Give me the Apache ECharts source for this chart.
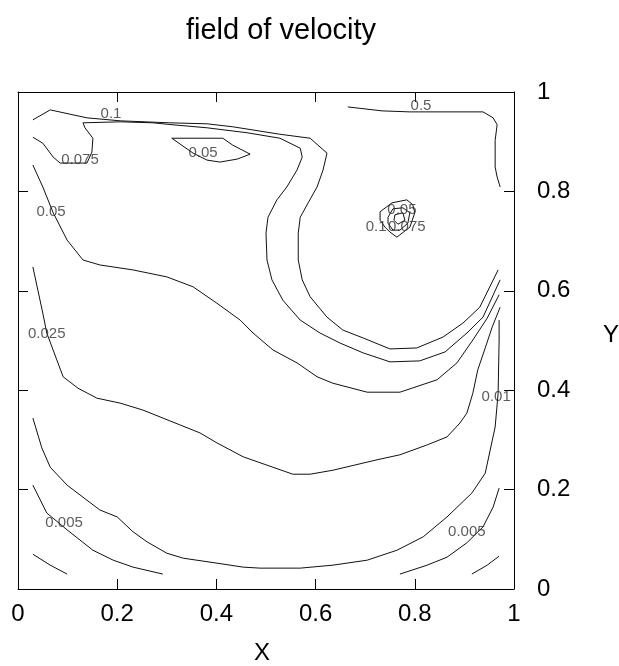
<!DOCTYPE html>
<html>
<head>
<meta charset="utf-8">
<script src="https://cdn.jsdelivr.net/npm/echarts@6/dist/echarts.min.js"></script>
<style>
  html, body { margin: 0; padding: 0; background: #fff; }
  #chart { width: 619px; height: 666px; }
</style>
</head>
<body>
<div id="chart"></div>
<script>
// ---- data (x, y in axis units) ----
const xTickLabels = ['0', '0.2', '0.4', '0.6', '0.8', '1'];
const yTickLabels = ['0', '0.2', '0.4', '0.6', '0.8', '1'];

const contour_0_1 = [[0.030,0.944],[0.065,0.964],[0.139,0.948],[0.206,0.942],[0.306,0.938],[0.381,0.936],[0.433,0.930],[0.528,0.915],[0.589,0.907],[0.623,0.877],[0.615,0.843],[0.603,0.809],[0.585,0.777],[0.569,0.748],[0.565,0.716],[0.565,0.662],[0.573,0.622],[0.589,0.588],[0.623,0.547],[0.655,0.521],[0.696,0.505],[0.750,0.483],[0.804,0.485],[0.857,0.507],[0.897,0.535],[0.931,0.567],[0.968,0.642]];

const contour_0_075 = [[0.030,0.909],[0.050,0.897],[0.071,0.869],[0.085,0.857],[0.139,0.857],[0.149,0.879],[0.151,0.907],[0.135,0.928],[0.131,0.938],[0.206,0.940],[0.272,0.938],[0.3125,0.934],[0.381,0.928],[0.462,0.918],[0.528,0.907],[0.569,0.887],[0.573,0.869],[0.5625,0.843],[0.542,0.809],[0.522,0.783],[0.504,0.748],[0.500,0.716],[0.502,0.662],[0.512,0.622],[0.534,0.581],[0.569,0.541],[0.609,0.515],[0.649,0.495],[0.696,0.475],[0.750,0.457],[0.810,0.459],[0.861,0.477],[0.905,0.515],[0.9375,0.547],[0.972,0.622]];

const contour_0_05 = [[0.030,0.853],[0.050,0.809],[0.071,0.757],[0.099,0.702],[0.131,0.662],[0.165,0.652],[0.232,0.642],[0.300,0.628],[0.353,0.608],[0.401,0.575],[0.448,0.541],[0.474,0.515],[0.514,0.481],[0.5625,0.455],[0.603,0.427],[0.635,0.414],[0.704,0.396],[0.770,0.396],[0.845,0.421],[0.885,0.455],[0.917,0.501],[0.946,0.545],[0.970,0.592]];

const contour_0_025 = [[0.030,0.648],[0.050,0.555],[0.058,0.515],[0.091,0.427],[0.121,0.404],[0.159,0.384],[0.206,0.374],[0.252,0.360],[0.327,0.330],[0.367,0.314],[0.401,0.294],[0.454,0.266],[0.514,0.245],[0.554,0.231],[0.589,0.231],[0.635,0.239],[0.724,0.260],[0.770,0.270],[0.825,0.290],[0.865,0.306],[0.891,0.334],[0.905,0.354],[0.917,0.394],[0.927,0.441],[0.942,0.485],[0.956,0.527],[0.972,0.567]];

const contour_0_01 = [[0.970,0.541],[0.970,0.501],[0.968,0.394],[0.962,0.326],[0.942,0.233],[0.915,0.193],[0.865,0.145],[0.817,0.105],[0.764,0.078],[0.704,0.058],[0.635,0.048],[0.569,0.042],[0.488,0.042],[0.454,0.044],[0.401,0.052],[0.333,0.062],[0.300,0.072],[0.260,0.095],[0.232,0.115],[0.200,0.145],[0.165,0.159],[0.099,0.209],[0.065,0.245],[0.048,0.284],[0.030,0.344]];

const contour_0_005_left = [[0.030,0.209],[0.058,0.153],[0.099,0.119],[0.151,0.078],[0.192,0.058],[0.232,0.044],[0.292,0.030]];
const contour_0_005_right = [[0.970,0.203],[0.958,0.165],[0.9375,0.125],[0.905,0.093],[0.865,0.064],[0.825,0.048],[0.770,0.030]];
const contour_low_left = [[0.030,0.070],[0.065,0.048],[0.099,0.030]];
const contour_low_right = [[0.970,0.066],[0.946,0.048],[0.915,0.030]];

const contour_0_5 = [[0.665,0.970],[0.734,0.962],[0.790,0.960],[0.9375,0.960],[0.958,0.948],[0.966,0.934],[0.962,0.903],[0.962,0.849],[0.966,0.829],[0.972,0.809]];

const loop_top_0_05 = [[0.310,0.907],[0.413,0.907],[0.433,0.893],[0.468,0.875],[0.442,0.865],[0.407,0.859],[0.381,0.863],[0.353,0.877],[0.310,0.907]];

const loop_center_outer = [[0.730,0.759],[0.754,0.777],[0.784,0.783],[0.796,0.773],[0.800,0.757],[0.790,0.728],[0.764,0.708],[0.750,0.718],[0.740,0.728],[0.730,0.742],[0.730,0.759]];
const loop_center_mid = [[0.746,0.748],[0.756,0.765],[0.776,0.767],[0.790,0.757],[0.786,0.736],[0.770,0.722],[0.756,0.722],[0.746,0.736],[0.746,0.748]];
const loop_center_inner = [[0.760,0.753],[0.776,0.757],[0.780,0.742],[0.766,0.734],[0.758,0.742],[0.760,0.753]];

const contourLabelTexts = ['0.1', '0.075', '0.05', '0.05', '0.025', '0.5', '0.01', '0.005', '0.005', '0.05', '0.1', '0.075'];
const contourLabelPositions = [[0.1875,0.956],[0.125,0.863],[0.373,0.877],[0.0665,0.759],[0.058,0.513],[0.8125,0.972],[0.964,0.386],[0.093,0.133],[0.905,0.115],[0.774,0.763],[0.722,0.728],[0.784,0.728]];

// ---- chart ----
const allContours = [contour_0_1, contour_0_075, contour_0_05, contour_0_025, contour_0_01,
  contour_0_005_left, contour_0_005_right, contour_low_left, contour_low_right, contour_0_5,
  loop_top_0_05, loop_center_outer, loop_center_mid, loop_center_inner];

const FONT = 'Liberation Sans, Arial, sans-serif';
const axisLineStyle = { color: '#000', width: 1 };

function makeX(position, showLabels) {
  return {
    type: 'value', min: 0, max: 1, interval: 0.2, position: position,
    axisLine: { show: true, onZero: false, lineStyle: axisLineStyle },
    axisTick: { show: true, inside: true, length: 10, lineStyle: axisLineStyle },
    axisLabel: { show: showLabels, fontSize: 24, fontFamily: FONT, color: '#000', margin: 13,
      formatter: function (v) { return xTickLabels[Math.round(v / 0.2)]; } },
    splitLine: { show: false }
  };
}
function makeY(position, showLabels) {
  return {
    type: 'value', min: 0, max: 1, interval: 0.2, position: position,
    axisLine: { show: true, onZero: false, lineStyle: axisLineStyle },
    axisTick: { show: true, inside: true, length: 10, lineStyle: axisLineStyle },
    axisLabel: { show: showLabels, fontSize: 24, fontFamily: FONT, color: '#000', margin: 23,
      padding: [0, 0, 6, 0],
      formatter: function (v) { return yTickLabels[Math.round(v / 0.2)]; } },
    splitLine: { show: false }
  };
}

const series = allContours.map(function (pts) {
  return {
    type: 'line', xAxisIndex: 0, yAxisIndex: 0, data: pts,
    showSymbol: false, symbol: 'none', smooth: false, silent: true,
    lineStyle: { color: '#111', width: 1 }, z: 3
  };
});
series.push({
  type: 'scatter', xAxisIndex: 0, yAxisIndex: 0, silent: true, symbolSize: 1,
  itemStyle: { color: 'rgba(0,0,0,0)' },
  data: contourLabelPositions.map(function (p, i) { return { value: p, name: contourLabelTexts[i] }; }),
  label: { show: true, position: 'inside', formatter: '{b}', fontSize: 15, fontFamily: FONT, color: '#333' },
  z: 5
});

const chart = echarts.init(document.getElementById('chart'), null, { renderer: 'canvas' });
chart.setOption({
  animation: false,
  backgroundColor: '#fff',
  title: {
    text: 'field of velocity', left: 276, top: 11, textAlign: 'center',
    textStyle: { fontSize: 29, fontWeight: 'normal', fontFamily: FONT, color: '#000' }
  },
  grid: { left: 18, top: 92, width: 496, height: 497, containLabel: false },
  xAxis: [makeX('bottom', true), makeX('top', false)],
  yAxis: [makeY('right', true), makeY('left', false)],
  graphic: [
    { type: 'text', x: 262, y: 653, style: { text: 'X', font: '24px ' + FONT, fill: '#000', align: 'center', verticalAlign: 'middle' } },
    { type: 'text', x: 611, y: 335, style: { text: 'Y', font: '24px ' + FONT, fill: '#000', align: 'center', verticalAlign: 'middle' } }
  ],
  series: series
});
</script>
</body>
</html>
